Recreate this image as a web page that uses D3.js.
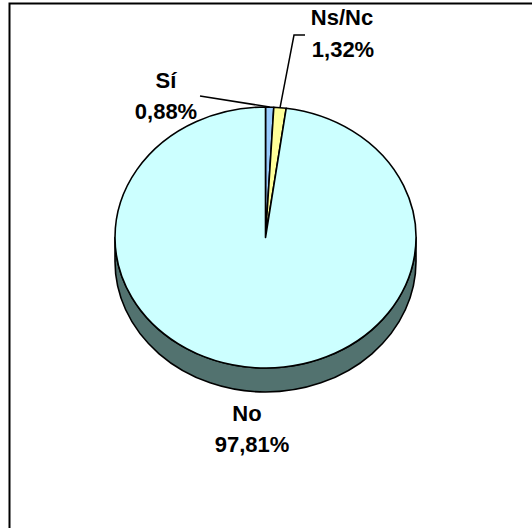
<!DOCTYPE html>
<html>
<head>
<meta charset="utf-8">
<script src="https://cdn.jsdelivr.net/npm/d3@7"></script>
<style>
  html, body { margin: 0; padding: 0; background: #fff; }
  svg { display: block; }
  text { font-family: "Liberation Sans", Arial, sans-serif; font-weight: bold; font-size: 22px; fill: #000; }
</style>
</head>
<body>
<svg id="chart" width="532" height="528"></svg>
<script>
// ---- data ----
const categories = ["Sí", "Ns/Nc", "No"];
const values = [0.88, 1.32, 97.81];
const valueLabels = ["0,88%", "1,32%", "97,81%"];
const topColors = ["#99CCFF", "#FFFF99", "#CCFFFF"];
const sideColors = ["#4C6680", "#80804C", "#52726F"];

// ---- layout ----
const W = 532, H = 528;
const cx = 265.5, cy = 237.5, rx = 150.5, ry = 130.5, depth = 24;

const svg = d3.select("#chart");

// outer frame (right & bottom edges fall outside the picture)
svg.append("rect")
  .attr("x", 9.5).attr("y", 3.5)
  .attr("width", 700).attr("height", 700)
  .attr("fill", "none").attr("stroke", "#000").attr("stroke-width", 2);

const pie = d3.pie().sort(null).value(d => d.v);
const data = categories.map((c, i) => ({ c, v: values[i], lab: valueLabels[i], i }));
const arcs = pie(data);

const topColor = d3.scaleOrdinal().domain(categories).range(topColors);
const sideColor = d3.scaleOrdinal().domain(categories).range(sideColors);

const P = (a, dy = 0) => [cx + rx * Math.sin(a), cy - ry * Math.cos(a) + dy];

// side walls (visible between 90° and 270°)
const g = svg.append("g");
arcs.forEach(a => {
  const s = Math.max(a.startAngle, Math.PI / 2);
  const e = Math.min(a.endAngle, 3 * Math.PI / 2);
  if (e <= s) return;
  const p0 = P(s), p1 = P(e), p2 = P(e, depth), p3 = P(s, depth);
  const large = (e - s) > Math.PI ? 1 : 0;
  const d = `M${p0}A${rx},${ry} 0 ${large} 1 ${p1}L${p2}A${rx},${ry} 0 ${large} 0 ${p3}Z`;
  g.append("path").attr("d", d)
    .attr("fill", sideColor(a.data.c))
    .attr("stroke", "#000").attr("stroke-width", 1.6).attr("stroke-linejoin", "round");
});

// top faces
arcs.forEach(a => {
  const p0 = P(a.startAngle), p1 = P(a.endAngle);
  const large = (a.endAngle - a.startAngle) > Math.PI ? 1 : 0;
  const d = `M${cx},${cy}L${p0}A${rx},${ry} 0 ${large} 1 ${p1}Z`;
  g.append("path").attr("d", d)
    .attr("fill", topColor(a.data.c))
    .attr("stroke", "#000").attr("stroke-width", 1.6).attr("stroke-linejoin", "round");
});

// labels (two lines each) and leader lines
const labelLayout = {
  "Sí":    { lines: [[166, 88], [166, 119]], leader: [[200, 96]] },
  "Ns/Nc": { lines: [[342, 25], [343, 57]], leader: [[305, 35], [294, 35]] },
  "No":    { lines: [[247, 421], [252, 452]], leader: null }
};

arcs.forEach(a => {
  const L = labelLayout[a.data.c];
  if (L.leader) {
    const mid = (a.startAngle + a.endAngle) / 2;
    const pts = L.leader.concat([P(mid)]);
    svg.append("path")
      .attr("d", d3.line()(pts))
      .attr("fill", "none").attr("stroke", "#000").attr("stroke-width", 1.5);
  }
  const t = svg.append("text").attr("text-anchor", "middle");
  t.append("tspan").attr("x", L.lines[0][0]).attr("y", L.lines[0][1]).text(a.data.c);
  t.append("tspan").attr("x", L.lines[1][0]).attr("y", L.lines[1][1]).text(a.data.lab);
});
</script>
</body>
</html>
